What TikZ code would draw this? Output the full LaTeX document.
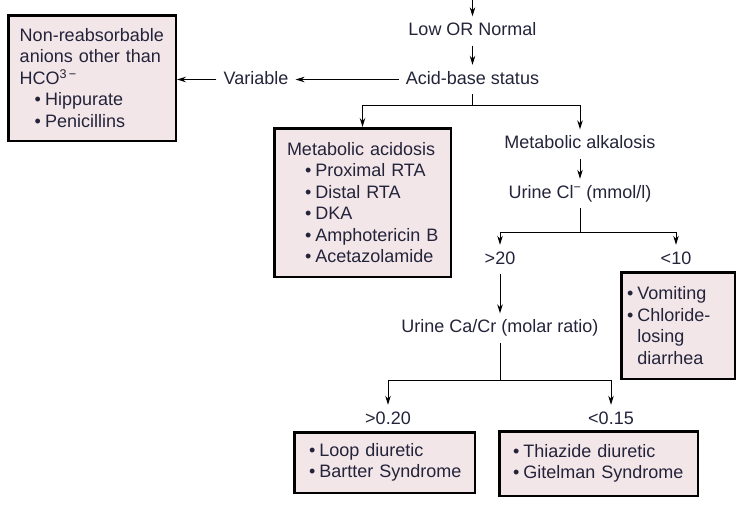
\documentclass[tikz,border=0pt]{standalone}
\usepackage{fontspec}
\setmainfont{Liberation Sans}
\usepackage{tikz}
\usetikzlibrary{arrows.meta}

\definecolor{boxfill}{HTML}{F3E6E8}
\definecolor{ink}{HTML}{23233A}
\newcommand{\itm}[1]{\mbox{\textbullet\hspace{4pt}#1}}
\newcommand{\noitm}[1]{\mbox{\phantom{\textbullet}\hspace{4pt}#1}}

\begin{document}
\begin{tikzpicture}[x=1pt,y=-1pt,
	every node/.style={font=\fontsize{18}{21.5}\selectfont, text=ink},
	lbl/.style={inner xsep=7pt, inner ysep=6pt, text height=13pt, text depth=4pt},
	box/.style={draw=black, line width=2.5pt, fill=boxfill, align=left, inner ysep=0pt},
	arr/.style={-{Stealth[length=9pt,width=5.5pt]}, line width=1pt},
	ln/.style={line width=1pt}]

	\useasboundingbox (0,0) rectangle (739,517);

	% labels
	\coordinate (top) at (472.5,0);
	\node[lbl] (low) at (472.5,31) {Low OR Normal};
	\node[lbl] (acid) at (472.5,79.5) {Acid-base status};
	\node[lbl] (var) at (256,79.5) {Variable};
	\node[lbl] (alk) at (580,144) {Metabolic alkalosis};
	\node[lbl] (ucl) at (580,193.5) {Urine Cl\textsuperscript{−} (mmol/l)};
	\node[lbl] (gt20) at (500,259.5) {>20};
	\node[lbl] (lt10) at (676,259.5) {<10};
	\node[lbl] (ucr) at (500,328) {Urine Ca/Cr (molar ratio)};
	\node[lbl] (gt020) at (388,419.5) {>0.20};
	\node[lbl] (lt015) at (611,419.5) {<0.15};

	% boxes
	\node[box, inner xsep=11.5pt, text width=144.5pt, minimum height=125.5pt] (nonre) at (92,78)
		{\mbox{Non-reabsorbable}\\anions other than\\HCO\textsuperscript{3\,−}\\
		\hspace*{15pt}\itm{Hippurate}\\\hspace*{15pt}\itm{Penicillins}};
	\node[box, inner xsep=12.75pt, text width=151pt, minimum height=148.5pt] (acidosis) at (362.5,202.5)
		{\mbox{Metabolic acidosis}\\\hspace*{18pt}\itm{Proximal RTA}\\\hspace*{18pt}\itm{Distal RTA}\\
		\hspace*{18pt}\itm{DKA}\\\hspace*{18pt}\itm{Amphotericin B}\\\hspace*{18pt}\itm{Acetazolamide}};
	\node[box, inner xsep=5.75pt, text width=102pt, minimum height=106.5pt] (vomit) at (678,325.5)
		{\itm{Vomiting}\\\itm{Chloride-}\\\noitm{losing}\\\noitm{diarrhea}};
	\node[box, inner xsep=14.75pt, text width=151pt, minimum height=60.5pt] (loop) at (384.5,462.5)
		{\itm{Loop diuretic}\\\itm{Bartter Syndrome}};
	\node[box, inner xsep=13.75pt, text width=171pt, minimum height=64.5pt] (thz) at (598.5,463.5)
		{\itm{Thiazide diuretic}\\\itm{Gitelman Syndrome}};

	% connectors
	\draw[arr] (top) -- (low);
	\draw[arr] (low) -- (acid);
	\draw[arr] (acid) -- (var);
	\draw[arr] (var) -- (var -| nonre.east);

	\coordinate (j1) at (472.5,105);
	\draw[ln] (acid) -- (j1);
	\draw[arr] (j1) -| (acidosis.north);
	\draw[arr] (j1) -| (alk);

	\draw[arr] (alk) -- (ucl);
	\coordinate (j2) at (580,232);
	\draw[ln] (ucl) -- (j2);
	\draw[arr] (j2) -| (gt20);
	\draw[arr] (j2) -| (lt10);

	\draw[arr] (gt20) -- (ucr);
	\coordinate (j3) at (500,380);
	\draw[ln] (ucr) -- (j3);
	\draw[arr] (j3) -| (gt020);
	\draw[arr] (j3) -| (lt015);

\end{tikzpicture}
\end{document}
